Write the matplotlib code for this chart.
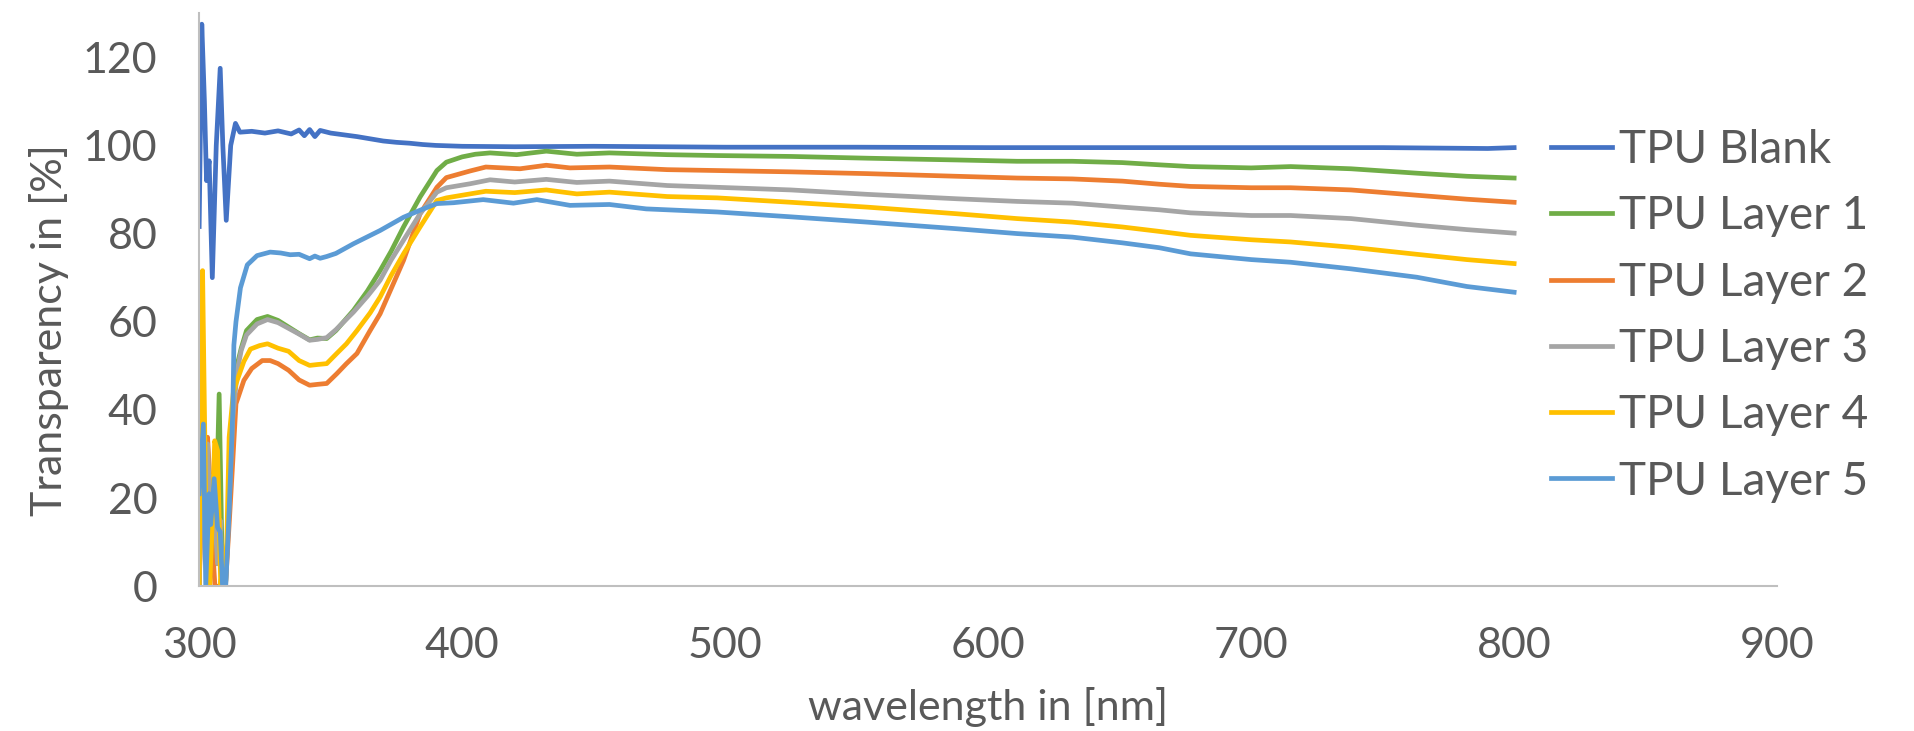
import matplotlib
matplotlib.use("Agg")
import matplotlib.pyplot as plt

# Werte (Wellenlänge in nm, Transparenz in %)
blank_wl = [300, 301, 302, 302.8, 303.8, 305, 306.5, 308, 309, 310.3, 312, 313.8, 315.5, 320, 325,
            330, 335, 338, 340, 342, 344, 346, 350, 355, 360, 365, 370, 375, 380, 385, 390, 400,
            420, 450, 500, 550, 600, 650, 700, 750, 790, 800]
blank_t = [81.6, 127.5, 110, 92, 96.5, 70, 100, 117.5, 100, 83, 100, 105, 103, 103.2, 102.8,
           103.3, 102.6, 103.5, 102.2, 103.6, 102.0, 103.4, 102.8, 102.4, 102.0, 101.5, 101.0, 100.7,
           100.5, 100.2, 100.0, 99.8, 99.7, 99.8, 99.6, 99.6, 99.5, 99.5, 99.5, 99.5, 99.3, 99.5]

l1_wl = [300, 301, 302, 303, 304, 305, 306, 307.6, 308.9, 310, 311.5, 312.8, 314.5, 316, 318, 322,
         326, 330, 334, 338, 342, 345, 348.5, 352, 358.7, 364, 368.8, 373, 377.7, 384, 390.4, 394,
         400, 405, 410.6, 420.7, 432, 443.6, 456, 478, 497, 525, 554, 588, 611, 632, 651, 665,
         677, 700, 715, 738, 763, 782, 800]
l1_t = [0, 30, 20, 30, 15, 25, 5, 43.6, 0, 0, 20, 40, 50.3, 54, 58, 60.5,
        61.2, 60.3, 58.8, 57.3, 55.9, 56.3, 56.2, 58, 62.6, 67, 71.6, 76, 81.5, 88.3, 94.3, 96.2,
        97.4, 98.0, 98.3, 97.9, 98.7, 98.0, 98.3, 97.9, 97.7, 97.5, 97.1, 96.7, 96.4, 96.4, 96.1, 95.6,
        95.2, 94.9, 95.2, 94.7, 93.7, 93.0, 92.6]

l2_wl = [300, 301, 302, 303.2, 304, 305, 306, 308, 310, 311.5, 312.8, 314, 317, 320, 324, 327, 330,
         334, 338, 342, 345, 348.5, 352.3, 356, 360, 365, 368.8, 373, 377.7, 384, 390.4, 394, 403,
         409, 422, 432, 441, 456, 478, 497, 525, 554, 588, 611, 632, 651, 665, 677, 700, 715,
         738, 763, 782, 800]
l2_t = [0, 20, 30, 33.8, 25, 10, 0, 0, 0, 15, 28.5, 41.4, 46.7, 49.4, 51.2, 51.2, 50.5,
        49, 46.8, 45.6, 45.8, 46, 48.2, 50.5, 52.8, 58, 61.8, 67.5, 73.9, 84.5, 90.5, 92.7, 94.2,
        95.1, 94.7, 95.5, 94.9, 95.1, 94.5, 94.3, 94.0, 93.6, 93.0, 92.6, 92.4, 91.9, 91.2, 90.7, 90.4, 90.4,
        89.9, 88.7, 87.8, 87.1]

l3_wl = [300, 301, 302, 303.2, 304, 305, 307, 308, 309, 310, 311.5, 312.8, 314.5, 316, 318, 322, 326,
         330, 334, 338, 342, 345, 348.5, 352, 358.7, 364, 368.8, 373, 377.7, 384, 390.4, 394, 403,
         410.6, 420, 432, 443.6, 456, 478, 497, 525, 554, 588, 611, 632, 651, 665, 677, 700, 715,
         738, 763, 782, 800]
l3_t = [0, 25, 15, 32.3, 20, 25, 5.1, 15, 0, 0, 20, 38, 49, 53.5, 57, 59.5, 60.5,
        59.8, 58.5, 57.2, 55.8, 56.0, 56.4, 58.2, 62.2, 65.8, 69.4, 74, 78.5, 84.5, 89.4, 90.4, 91.3,
        92.2, 91.7, 92.3, 91.6, 91.9, 90.9, 90.5, 89.9, 88.9, 87.9, 87.3, 86.9, 86.0, 85.4, 84.7, 84.1, 84.1,
        83.4, 81.9, 80.9, 80.1]

l4_wl = [300, 301.3, 302, 303, 304, 305, 305.9, 307, 308.2, 309, 309.5, 310.5, 311.4, 313, 314.5, 317,
         319.5, 323, 326, 330, 334, 338, 342, 345, 348.5, 352.3, 356, 360, 365, 368.8, 373, 377.7,
         384, 390.4, 394, 403, 409, 420, 432, 443.6, 456, 478, 497, 525, 554, 588, 611, 632, 651,
         665, 677, 700, 715, 738, 763, 782, 800]
l4_t = [0, 71.6, 40, 0, 0, 15, 33, 30.8, 0, 5.9, 0, 10, 33.8, 44, 46.8, 51,
        53.8, 54.6, 55, 54, 53.3, 51.2, 50.1, 50.3, 50.5, 52.8, 55, 58, 62, 65.6, 70.5, 75.4,
        81.5, 87.5, 88.1, 89, 89.6, 89.3, 89.9, 89.0, 89.4, 88.4, 88.1, 87.1, 86.0, 84.5, 83.4, 82.6, 81.5,
        80.5, 79.6, 78.6, 78.1, 76.9, 75.3, 74.1, 73.2]

l5_wl = [300, 301.6, 302.5, 303.8, 304.4, 305.7, 307, 308, 308.9, 310.1, 311.4, 312.8, 313.2, 314,
         315.7, 318.3, 322, 327, 331, 334.6, 338, 342, 344, 346, 348.5, 352, 358.7, 368.8, 377.7,
         384, 390.4, 396.7, 408, 419.5, 428.4, 441, 456, 470, 497, 525, 554, 588, 611, 632, 651,
         665, 677, 700, 715, 738, 763, 782, 800]
l5_t = [21, 36.8, 0, 21, 14, 24.4, 13.4, 12.3, 0, 0, 17.2, 39.9, 54.7, 60,
        67.7, 72.9, 75, 75.8, 75.6, 75.2, 75.3, 74.3, 74.9, 74.4, 74.8, 75.5, 77.7, 80.7, 83.7,
        85.3, 86.8, 87, 87.7, 86.9, 87.7, 86.4, 86.6, 85.6, 84.9, 83.8, 82.6, 81.1, 80.0, 79.2, 77.9,
        76.8, 75.4, 74.1, 73.5, 72.0, 70.1, 68.0, 66.7]

serien = [
    ("TPU Blank", blank_wl, blank_t, "#4472C4"),
    ("TPU Layer 1", l1_wl, l1_t, "#70AD47"),
    ("TPU Layer 2", l2_wl, l2_t, "#ED7D31"),
    ("TPU Layer 3", l3_wl, l3_t, "#A5A5A5"),
    ("TPU Layer 4", l4_wl, l4_t, "#FFC000"),
    ("TPU Layer 5", l5_wl, l5_t, "#5B9BD5"),
]

x_ticks = [300, 400, 500, 600, 700, 800, 900]
y_ticks = [0, 20, 40, 60, 80, 100, 120]

plt.rcParams['font.family'] = ['Lato', 'DejaVu Sans']
textfarbe = '#595959'

fig = plt.figure(figsize=(19.15, 7.31), dpi=100)
ax = fig.add_axes([0.104, 0.198, 0.824, 0.784])

for name, wl, t, farbe in serien:
    ax.plot(wl, t, color=farbe, linewidth=3.4, label=name, solid_joinstyle='round')

ax.set_xlim(300, 900)
ax.set_ylim(0, 130)
ax.set_xticks(x_ticks)
ax.set_yticks(y_ticks)
ax.tick_params(length=0, labelsize=31, colors=textfarbe)
ax.tick_params(axis='x', pad=29)
ax.tick_params(axis='y', pad=30)

for s in ['top', 'right']:
    ax.spines[s].set_visible(False)
for s in ['left', 'bottom']:
    ax.spines[s].set_color('#BFBFBF')
    ax.spines[s].set_linewidth(1.5)

ax.set_xlabel('wavelength in [nm]', fontsize=31, color=textfarbe)
ax.set_ylabel('Transparency in [%]', fontsize=31, color=textfarbe)
ax.xaxis.set_label_coords(0.5, -0.21)
ax.yaxis.set_label_coords(-0.095, 0.447)
ax.xaxis.label.set_va('center')
ax.yaxis.label.set_va('center')

leg = ax.legend(loc='center left', bbox_to_anchor=(0.81, 0.568), bbox_transform=fig.transFigure,
                frameon=False, fontsize=33, handlelength=1.33, handletextpad=0.15,
                labelspacing=0.53, borderpad=0, borderaxespad=0)
for txt in leg.get_texts():
    txt.set_color(textfarbe)

fig.savefig('out.png', dpi=100)
